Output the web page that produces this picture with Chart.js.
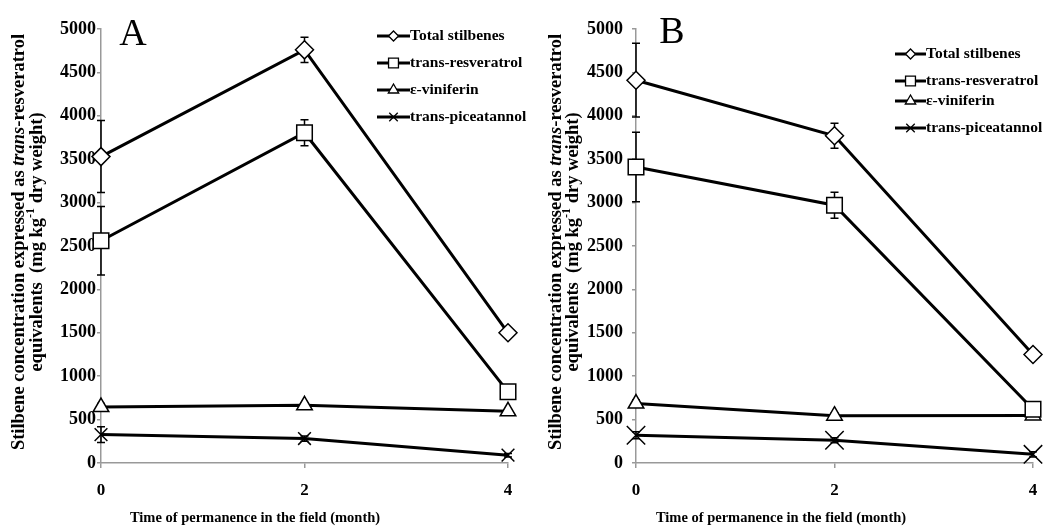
<!DOCTYPE html>
<html>
<head>
<meta charset="utf-8">
<script src="https://cdn.jsdelivr.net/npm/chart.js@4/dist/chart.umd.min.js"></script>
<style>
html,body{margin:0;padding:0;background:#fff;}
#wrap{position:relative;width:1053px;height:530px;overflow:hidden;}
canvas{position:absolute;top:0;}
</style>
</head>
<body>
<div id="wrap">
<canvas id="cA" width="540" height="530" style="left:0"></canvas>
<canvas id="cB" width="530" height="530" style="left:523px"></canvas>
</div>
<script>
// ---- data ----
const months = [0, 2, 4];
const seriesNames = ['Total stilbenes', 'trans-resveratrol', '\u03b5-viniferin', 'trans-piceatannol'];
const yTicks = [0, 500, 1000, 1500, 2000, 2500, 3000, 3500, 4000, 4500, 5000];
const xTicks = [0, 2, 4];

const totalA = [3530, 4760, 1500];
const resvA  = [2560, 3805, 820];
const vinA   = [645, 665, 595];
const piceA  = [327, 282, 90];
const totalErrA = [415, 145, 40];
const resvErrA  = [395, 150, 40];
const vinErrA   = [40, 30, 30];
const piceErrA  = [90, 30, 20];

const totalB = [4410, 3770, 1250];
const resvB  = [3410, 2970, 620];
const vinB   = [685, 545, 548];
const piceB  = [320, 262, 100];
const totalErrB = [425, 145, 40];
const resvErrB  = [400, 150, 40];
const vinErrB   = [40, 30, 30];
const piceErrB  = [40, 30, 30];

const SERIF = '"Liberation Serif", "DejaVu Serif", serif';

// ---- plugins ----
const errorBars = {
  id: 'errorBars',
  beforeDatasetsDraw(chart) {
    const ctx = chart.ctx, y = chart.scales.y;
    ctx.save();
    ctx.strokeStyle = '#000';
    ctx.lineWidth = 1.5;
    chart.data.datasets.forEach((ds, i) => {
      const meta = chart.getDatasetMeta(i);
      meta.data.forEach((pt, j) => {
        const v = ds.data[j].y, e = ds.errors[j];
        const yt = y.getPixelForValue(v + e), yb = y.getPixelForValue(v - e);
        ctx.beginPath();
        ctx.moveTo(pt.x, yt); ctx.lineTo(pt.x, yb);
        ctx.moveTo(pt.x - 4, yt); ctx.lineTo(pt.x + 4, yt);
        ctx.moveTo(pt.x - 4, yb); ctx.lineTo(pt.x + 4, yb);
        ctx.stroke();
      });
    });
    ctx.restore();
  }
};

function drawSegments(ctx, segs, cx, cy) {
  let total = 0;
  segs.forEach(s => { ctx.font = s.font; total += ctx.measureText(s.text).width; });
  let x = cx - total / 2;
  segs.forEach(s => {
    ctx.font = s.font;
    ctx.fillText(s.text, x, cy + (s.dy || 0));
    x += ctx.measureText(s.text).width;
  });
}

const decor = {
  id: 'decor',
  afterDraw(chart, args, o) {
    const ctx = chart.ctx;
    ctx.save();
    ctx.fillStyle = '#000';
    // panel letter
    ctx.font = '38px ' + SERIF;
    ctx.textAlign = 'center';
    ctx.textBaseline = 'alphabetic';
    ctx.fillText(o.letter, o.letterX, o.letterY);

    // y title (rotated, two lines)
    const fs = o.yTitleSize;
    const b = 'bold ' + fs + 'px ' + SERIF;
    const bi = 'italic bold ' + fs + 'px ' + SERIF;
    const sup = 'bold ' + Math.round(fs * 0.65) + 'px ' + SERIF;
    ctx.textAlign = 'left';
    ctx.textBaseline = 'middle';
    ctx.save();
    ctx.translate(o.yTitleX[0], o.yTitleY);
    ctx.rotate(-Math.PI / 2);
    drawSegments(ctx, [
      {text: 'Stilbene concentration expressed as ', font: b},
      {text: 'trans', font: bi},
      {text: '-resveratrol', font: b}
    ], 0, 0);
    ctx.restore();
    ctx.save();
    ctx.translate(o.yTitleX[1], o.yTitleY);
    ctx.rotate(-Math.PI / 2);
    drawSegments(ctx, [
      {text: 'equivalents  (mg kg', font: b},
      {text: '-1', font: sup, dy: -fs * 0.35},
      {text: ' dry weight)', font: b}
    ], 0, 0);
    ctx.restore();

    // x title
    ctx.font = 'bold ' + o.xTitleSize + 'px ' + SERIF;
    ctx.textAlign = 'center';
    ctx.textBaseline = 'middle';
    ctx.fillText('Time of permanence in the field (month)', o.xTitleX, o.xTitleY);

    // legend
    chart.data.datasets.forEach((ds, i) => {
      const ly = o.legendRows[i];
      ctx.strokeStyle = '#000';
      ctx.lineWidth = 3;
      ctx.beginPath();
      ctx.moveTo(o.legendX, ly);
      ctx.lineTo(o.legendX + o.legendLine, ly);
      ctx.stroke();
      ctx.fillStyle = '#fff';
      ctx.lineWidth = 1.3;
      Chart.helpers.drawPoint(ctx, {
        pointStyle: ds.pointStyle,
        radius: o.legendRadius[i],
        borderWidth: 1.3,
        rotation: 0
      }, o.legendX + o.legendLine / 2, ly);
      ctx.fillStyle = '#000';
      ctx.font = 'bold ' + o.legendSize + 'px ' + SERIF;
      ctx.textAlign = 'left';
      ctx.textBaseline = 'middle';
      ctx.fillText(seriesNames[i], o.legendX + o.legendLine, ly);
    });
    ctx.restore();
  }
};

function pts(arr) { return months.map((m, i) => ({x: m, y: arr[i]})); }

function makeDatasets(tot, res, vin, pic, eT, eR, eV, eP, crossR) {
  const base = {
    borderColor: '#000', borderWidth: 3, backgroundColor: '#fff',
    pointBackgroundColor: '#fff', pointBorderColor: '#000', pointBorderWidth: 1.5,
    tension: 0, clip: false, fill: false
  };
  return [
    Object.assign({}, base, {label: seriesNames[0], data: pts(tot), errors: eT, pointStyle: 'rectRot', pointRadius: 9}),
    Object.assign({}, base, {label: seriesNames[1], data: pts(res), errors: eR, pointStyle: 'rect', pointRadius: 11}),
    Object.assign({}, base, {label: seriesNames[2], data: pts(vin), errors: eV, pointStyle: 'triangle', pointRadius: 9}),
    Object.assign({}, base, {label: seriesNames[3], data: pts(pic), errors: eP, pointStyle: 'crossRot', pointRadius: crossR})
  ];
}

function makeChart(id, datasets, leftW, rightPad, yPad, decorOpts) {
  return new Chart(document.getElementById(id), {
    type: 'line',
    data: {datasets: datasets},
    plugins: [errorBars, decor],
    options: {
      responsive: false,
      animation: false,
      devicePixelRatio: 1,
      layout: {padding: {left: 0, right: rightPad, top: 29, bottom: 0}},
      plugins: {legend: {display: false}, tooltip: {enabled: false}, decor: decorOpts},
      scales: {
        x: {
          type: 'linear', min: 0, max: 4,
          afterBuildTicks(s) { s.ticks = xTicks.map(v => ({value: v})); },
          afterFit(s) { s.height = 67; },
          grid: {drawOnChartArea: false, color: '#999', lineWidth: 1.5, tickLength: 5},
          border: {color: '#999', width: 1.5},
          ticks: {color: '#000', padding: 12, callback: v => String(v),
                  font: {family: SERIF, size: 17, weight: 'bold'}}
        },
        y: {
          min: 0, max: 5000,
          afterBuildTicks(s) { s.ticks = yTicks.map(v => ({value: v})); },
          afterFit(s) { s.width = leftW; },
          grid: {drawOnChartArea: false, color: '#999', lineWidth: 1.5, tickLength: 4},
          border: {color: '#999', width: 1.5},
          ticks: {color: '#000', padding: yPad, callback: v => String(v),
                  font: {family: SERIF, size: 18, weight: 'bold'}}
        }
      }
    }
  });
}

makeChart('cA', makeDatasets(totalA, resvA, vinA, piceA, totalErrA, resvErrA, vinErrA, piceErrA, 9), 101, 32, 1, {
  letter: 'A', letterX: 133, letterY: 45,
  yTitleX: [19, 37], yTitleY: 242, yTitleSize: 18.5,
  xTitleX: 255, xTitleY: 518, xTitleSize: 14.5,
  legendX: 377, legendLine: 33, legendRows: [36, 63, 90, 117], legendRadius: [5, 7, 6, 6], legendSize: 15.5
});
makeChart('cB', makeDatasets(totalB, resvB, vinB, piceB, totalErrB, resvErrB, vinErrB, piceErrB, 13), 113, 20, 9, {
  letter: 'B', letterX: 149, letterY: 43,
  yTitleX: [33, 50], yTitleY: 242, yTitleSize: 18.5,
  xTitleX: 258, xTitleY: 518, xTitleSize: 14.5,
  legendX: 372, legendLine: 31, legendRows: [54, 81, 101, 128], legendRadius: [5, 7, 6, 6], legendSize: 15.5
});
</script>
</body>
</html>
